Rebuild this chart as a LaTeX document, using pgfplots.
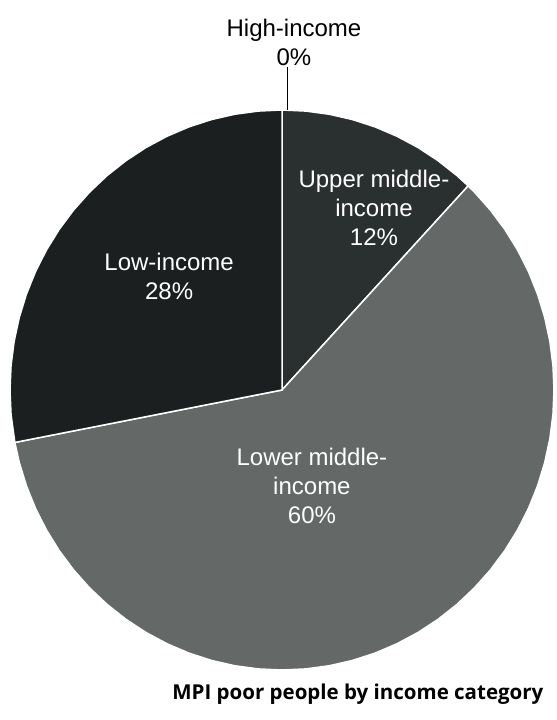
\documentclass[border=0pt]{standalone}
\usepackage{pgfplots}
\pgfplotsset{compat=1.18}
\usepackage{fontspec}
\setmainfont{Liberation Sans}
\newfontfamily\titlefont{Open Sans}
\definecolor{lowc}{HTML}{1B1F1F}
\definecolor{upperc}{HTML}{2A2F2F}
\definecolor{lowerc}{HTML}{646867}
\begin{document}
\begin{tikzpicture}
\begin{axis}[
  x=272pt, y=280pt,
  xmin=-1.0368, xmax=1.0074,
  ymin=-1.1786, ymax=1.3929,
  hide axis, clip=false,
]
% page frame
\path (axis cs:-1.0368,-1.1786) rectangle (axis cs:1.0074,1.3929);
% Upper middle-income 12%: 90 -> 46.8
\addplot[data cs=polar, fill=upperc, draw=white, line width=1.5pt, line join=round] coordinates {
 (0,0) (90,1) (85,1) (80,1) (75,1) (70,1) (65,1) (60,1) (55,1) (50,1) (46.8,1)
} -- cycle;
% Lower middle-income 60%: 46.8 -> -169.2
\addplot[data cs=polar, fill=lowerc, draw=white, line width=1.5pt, line join=round] coordinates {
 (0,0) (46.8,1) (45,1) (40,1) (35,1) (30,1) (25,1) (20,1) (15,1) (10,1) (5,1) (0,1)
 (-5,1) (-10,1) (-15,1) (-20,1) (-25,1) (-30,1) (-35,1) (-40,1) (-45,1) (-50,1)
 (-55,1) (-60,1) (-65,1) (-70,1) (-75,1) (-80,1) (-85,1) (-90,1) (-95,1) (-100,1)
 (-105,1) (-110,1) (-115,1) (-120,1) (-125,1) (-130,1) (-135,1) (-140,1) (-145,1)
 (-150,1) (-155,1) (-160,1) (-165,1) (-169.2,1)
} -- cycle;
% Low-income 28%: 190.8 -> 90
\addplot[data cs=polar, fill=lowc, draw=white, line width=1.5pt, line join=round] coordinates {
 (0,0) (190.8,1) (185,1) (180,1) (175,1) (170,1) (165,1) (160,1) (155,1) (150,1)
 (145,1) (140,1) (135,1) (130,1) (125,1) (120,1) (115,1) (110,1) (105,1) (100,1) (95,1) (90,1)
} -- cycle;
% High-income 0% leader
\addplot[black, line width=0.9pt] coordinates {(0.02,1) (0.02,1.155)};

\node[align=center, font=\fontsize{24}{29}\selectfont, text=black] at (axis cs:0.044,1.243) {High-income\\0\%};
\node[align=center, font=\fontsize{24}{29}\selectfont, text=white] at (axis cs:0.338,0.650) {Upper middle-\\income\\12\%};
\node[align=center, font=\fontsize{24}{29}\selectfont, text=white] at (axis cs:-0.415,0.404) {Low-income\\28\%};
\node[align=center, font=\fontsize{24}{29}\selectfont, text=white] at (axis cs:0.110,-0.343) {Lower middle-\\income\\60\%};
\node[anchor=base, font=\titlefont\bfseries\fontsize{20.5}{24}\selectfont, text=black] at (axis cs:0.279,-1.107) {MPI poor people by income category};
\end{axis}
\end{tikzpicture}
\end{document}
